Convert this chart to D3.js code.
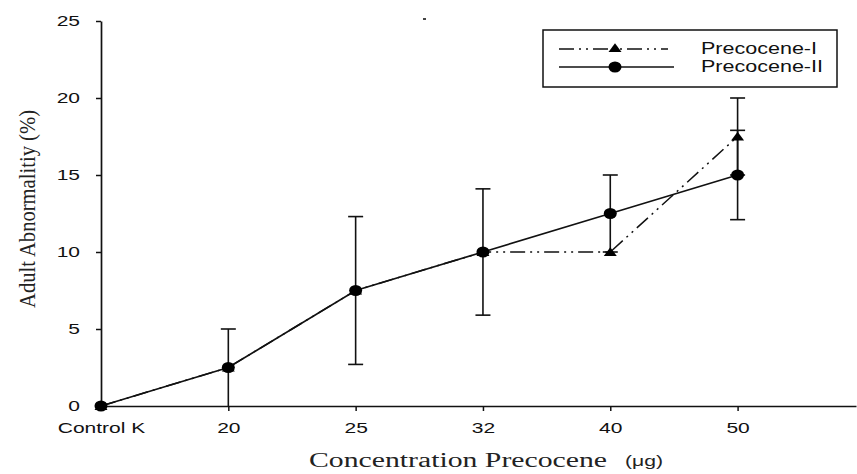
<!DOCTYPE html>
<html>
<head>
<meta charset="utf-8">
<script src="https://cdn.jsdelivr.net/npm/d3@7"></script>
<style>
  body { margin: 0; background: #fff; }
  svg { display: block; }
  .tick text { font-family: "Liberation Sans", Arial, sans-serif; font-size: 14.5px; fill: #111; }
</style>
</head>
<body>
<svg id="chart"></svg>
<script>
const width = 857;
const height = 474;

const categories = ["Control K", "20", "25", "32", "40", "50"];
const precoceneI = [0, 2.5, 7.5, 10, 10, 17.5];
const precoceneIErr = [0, 0, 0, 0, 0, 2.5];
const precoceneII = [0, 2.5, 7.5, 10, 12.5, 15];
const precoceneIIErr = [0, 2.5, 4.8, 4.1, 2.5, 2.9];
const yTicks = [0, 5, 10, 15, 20, 25];

const svg = d3.select("#chart").attr("width", width).attr("height", height);

const x = d3.scaleLinear().domain([0, 5.93]).range([101, 856]);
const y = d3.scaleLinear().domain([0, 25]).range([406, 21]);

const stretch = 1.45; // the sans text in the source is drawn wide

// axes
const yAxis = d3.axisLeft(y).tickValues(yTicks).tickSize(5).tickSizeOuter(0);
const gy = svg.append("g").attr("transform", `translate(${x(0)},0)`).call(yAxis);
gy.selectAll(".tick text")
  .attr("x", -21 / stretch)
  .attr("transform", `scale(${stretch},1)`);

const xAxis = d3.axisBottom(x)
  .tickValues(d3.range(categories.length))
  .tickFormat((d) => categories[d])
  .tickSize(5)
  .tickPadding(12)
  .tickSizeOuter(0);
const gx = svg.append("g").attr("transform", `translate(0,${y(0)})`).call(xAxis);
gx.selectAll(".tick text").attr("transform", `scale(${stretch},1)`);

[gx, gy].forEach((g) => {
  g.select(".domain").attr("stroke", "#111").attr("stroke-width", 1.7);
  g.selectAll(".tick line").attr("stroke", "#111").attr("stroke-width", 1.5);
});
gx.selectAll(".tick").filter((d) => d === 0).select("line").remove();

// error bars
function drawErrors(values, errs) {
  const g = svg.append("g").attr("stroke", "#111").attr("stroke-width", 1.6);
  values.forEach((v, i) => {
    if (!errs[i]) return;
    const cx = x(i);
    const lo = y(Math.max(0, v - errs[i]));
    const hi = y(v + errs[i]);
    g.append("line").attr("x1", cx).attr("x2", cx).attr("y1", lo).attr("y2", hi);
    g.append("line").attr("x1", cx - 7.5).attr("x2", cx + 7.5).attr("y1", hi).attr("y2", hi);
    if (v - errs[i] > 0) {
      g.append("line").attr("x1", cx - 7.5).attr("x2", cx + 7.5).attr("y1", lo).attr("y2", lo);
    }
  });
}
drawErrors(precoceneII, precoceneIIErr);
drawErrors(precoceneI, precoceneIErr);

const line = d3.line().x((d, i) => x(i)).y((d) => y(d));
const dashDotDot = "15,5,2,5,2,5";

svg.append("path")
  .datum(precoceneI)
  .attr("d", line)
  .attr("fill", "none")
  .attr("stroke", "#111")
  .attr("stroke-width", 1.5)
  .attr("stroke-dasharray", dashDotDot);

svg.append("path")
  .datum(precoceneII)
  .attr("d", line)
  .attr("fill", "none")
  .attr("stroke", "#111")
  .attr("stroke-width", 1.7);

// flattened triangle, as in the source
const triPath = "M0,-4.8L6.5,4L-6.5,4Z";

svg.append("g").selectAll("path")
  .data(precoceneI)
  .join("path")
  .attr("d", triPath)
  .attr("transform", (d, i) => `translate(${x(i)},${y(d)})`)
  .attr("fill", "#000");

svg.append("g").selectAll("ellipse")
  .data(precoceneII)
  .join("ellipse")
  .attr("cx", (d, i) => x(i))
  .attr("cy", (d) => y(d))
  .attr("rx", 6.5)
  .attr("ry", 5.5)
  .attr("fill", "#000");

// legend
const legend = svg.append("g");
legend.append("rect")
  .attr("x", 543).attr("y", 30).attr("width", 294).attr("height", 57)
  .attr("fill", "#fff").attr("stroke", "#111").attr("stroke-width", 1.5);

const legendItems = [
  { name: "Precocene-I", dash: dashDotDot, mark: "tri", y: 49, x2: 668, len: 116 },
  { name: "Precocene-II", dash: null, mark: "circle", y: 67, x2: 674, len: 122 },
];
legendItems.forEach((it) => {
  legend.append("line")
    .attr("x1", 559).attr("x2", it.x2).attr("y1", it.y).attr("y2", it.y)
    .attr("stroke", "#111").attr("stroke-width", 1.6)
    .attr("stroke-dasharray", it.dash);
  if (it.mark === "tri") {
    legend.append("path").attr("d", triPath)
      .attr("transform", `translate(615,${it.y - 1})`).attr("fill", "#000");
  } else {
    legend.append("ellipse").attr("cx", 615).attr("cy", it.y)
      .attr("rx", 6.5).attr("ry", 5.5).attr("fill", "#000");
  }
  legend.append("text")
    .attr("x", 701).attr("y", it.y + 4.5)
    .attr("font-family", "Liberation Sans, Arial, sans-serif")
    .attr("font-size", 16)
    .attr("textLength", it.len)
    .attr("lengthAdjust", "spacingAndGlyphs")
    .attr("fill", "#111")
    .text(it.name);
});

// stray mark at top
svg.append("rect").attr("x", 423).attr("y", 18).attr("width", 3).attr("height", 2).attr("fill", "#444");

// axis titles
svg.append("text")
  .attr("transform", "translate(35,209) rotate(-90)")
  .attr("text-anchor", "middle")
  .attr("font-family", "Liberation Serif, Times New Roman, serif")
  .attr("font-size", 24)
  .attr("textLength", 198)
  .attr("lengthAdjust", "spacingAndGlyphs")
  .attr("fill", "#222")
  .text("Adult Abnormalitiy (%)");

svg.append("text")
  .attr("x", 309).attr("y", 467)
  .attr("font-family", "Liberation Serif, Times New Roman, serif")
  .attr("font-size", 20)
  .attr("textLength", 298)
  .attr("lengthAdjust", "spacingAndGlyphs")
  .attr("fill", "#222")
  .text("Concentration Precocene");

svg.append("text")
  .attr("x", 625).attr("y", 466)
  .attr("font-family", "Liberation Sans, Arial, sans-serif")
  .attr("font-size", 14)
  .attr("textLength", 38)
  .attr("lengthAdjust", "spacingAndGlyphs")
  .attr("fill", "#222")
  .text("(μg)");
</script>
</body>
</html>
